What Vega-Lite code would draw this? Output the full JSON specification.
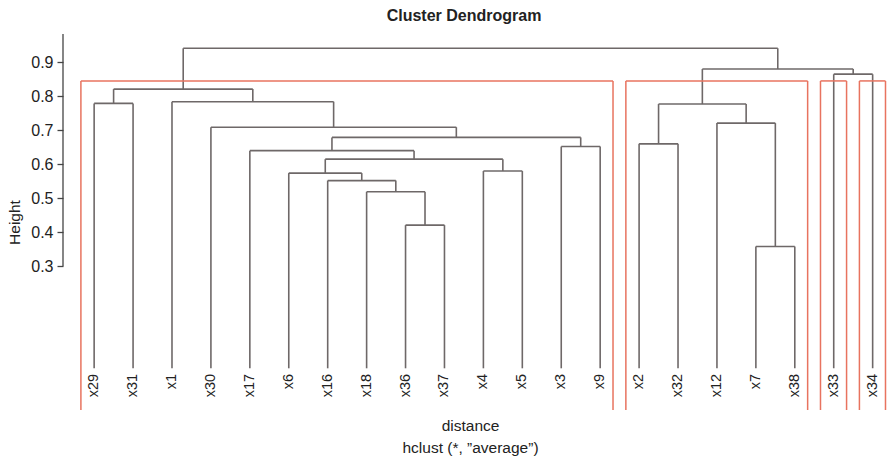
{
  "$schema": "https://vega.github.io/schema/vega-lite/v6.json",
  "width": 826,
  "height": 376,
  "autosize": {"type": "none"},
  "padding": {"left": 63, "top": 34, "right": 0, "bottom": 47},
  "background": "white",
  "config": {"view": {"stroke": null}, "font": "Liberation Sans"},
  "title": {"text": "Cluster Dendrogram", "fontSize": 16, "fontWeight": "bold", "color": "#222222", "anchor": "middle", "dx": -12, "offset": 9, "font": "Liberation Sans"},
  "datasets": {
    "nodes": [
      {"id": "N1", "xl": 9, "hl": 0, "xr": 10, "hr": 0, "h": 0.421},
      {"id": "N2", "xl": 8, "hl": 0, "xr": 9.5, "hr": 0.421, "h": 0.519},
      {"id": "N3", "xl": 7, "hl": 0, "xr": 8.75, "hr": 0.519, "h": 0.552},
      {"id": "N4", "xl": 6, "hl": 0, "xr": 7.875, "hr": 0.552, "h": 0.574},
      {"id": "N5", "xl": 11, "hl": 0, "xr": 12, "hr": 0, "h": 0.58},
      {"id": "N6", "xl": 6.9375, "hl": 0.574, "xr": 11.5, "hr": 0.58, "h": 0.615},
      {"id": "N7", "xl": 5, "hl": 0, "xr": 9.21875, "hr": 0.615, "h": 0.64},
      {"id": "N8", "xl": 13, "hl": 0, "xr": 14, "hr": 0, "h": 0.652},
      {"id": "N9", "xl": 7.109375, "hl": 0.64, "xr": 13.5, "hr": 0.652, "h": 0.679},
      {"id": "N10", "xl": 4, "hl": 0, "xr": 10.3046875, "hr": 0.679, "h": 0.709},
      {"id": "N11", "xl": 3, "hl": 0, "xr": 7.15234375, "hr": 0.709, "h": 0.784},
      {"id": "N12", "xl": 1, "hl": 0, "xr": 2, "hr": 0, "h": 0.779},
      {"id": "N13", "xl": 1.5, "hl": 0.779, "xr": 5.076171875, "hr": 0.784, "h": 0.821},
      {"id": "N14", "xl": 18, "hl": 0, "xr": 19, "hr": 0, "h": 0.358},
      {"id": "N15", "xl": 17, "hl": 0, "xr": 18.5, "hr": 0.358, "h": 0.721},
      {"id": "N16", "xl": 15, "hl": 0, "xr": 16, "hr": 0, "h": 0.66},
      {"id": "N17", "xl": 15.5, "hl": 0.66, "xr": 17.75, "hr": 0.721, "h": 0.777},
      {"id": "N18", "xl": 20, "hl": 0, "xr": 21, "hr": 0, "h": 0.865},
      {"id": "N19", "xl": 16.625, "hl": 0.777, "xr": 20.5, "hr": 0.865, "h": 0.88},
      {"id": "N20", "xl": 3.2880859375, "hl": 0.821, "xr": 18.5625, "hr": 0.88, "h": 0.941}
    ],
    "leaves": [
      {"label": "x29", "pos": 1}, {"label": "x31", "pos": 2}, {"label": "x1", "pos": 3},
      {"label": "x30", "pos": 4}, {"label": "x17", "pos": 5}, {"label": "x6", "pos": 6},
      {"label": "x16", "pos": 7}, {"label": "x18", "pos": 8}, {"label": "x36", "pos": 9},
      {"label": "x37", "pos": 10}, {"label": "x4", "pos": 11}, {"label": "x5", "pos": 12},
      {"label": "x3", "pos": 13}, {"label": "x9", "pos": 14}, {"label": "x2", "pos": 15},
      {"label": "x32", "pos": 16}, {"label": "x12", "pos": 17}, {"label": "x7", "pos": 18},
      {"label": "x38", "pos": 19}, {"label": "x33", "pos": 20}, {"label": "x34", "pos": 21}
    ],
    "boxes": [
      {"cluster": 1, "left": 0.66, "right": 14.33, "top": 0.845},
      {"cluster": 2, "left": 14.66, "right": 19.33, "top": 0.845},
      {"cluster": 3, "left": 19.66, "right": 20.33, "top": 0.845},
      {"cluster": 4, "left": 20.66, "right": 21.33, "top": 0.845}
    ]
  },
  "layer": [
    {
      "data": {"name": "nodes"},
      "mark": {"type": "rule", "color": "#6e6868", "strokeWidth": 1.6},
      "encoding": {
        "x": {"field": "xl", "type": "quantitative", "scale": {"domain": [0.2, 21.42], "nice": false, "zero": false},
          "axis": {"labels": false, "ticks": false, "domain": false, "grid": false,
            "title": ["distance", "hclust (*, \u201daverage\u201d)"], "titleFontSize": 15.5, "titleFontWeight": "normal",
            "titleColor": "#222222", "titleLineHeight": 22, "titleBaseline": "top", "titleX": 407, "titleY": 8, "titleFont": "Liberation Sans"}},
        "x2": {"field": "xr"},
        "y": {"field": "h", "type": "quantitative", "scale": {"domain": [-0.1226, 0.983], "nice": false, "zero": false},
          "axis": {"values": [0.3, 0.4, 0.5, 0.6, 0.7, 0.8, 0.9], "format": ".1f", "domain": false, "grid": false,
            "tickSize": 6, "tickColor": "#444444", "tickWidth": 1.3, "labelFontSize": 16, "labelPadding": 4, "labelColor": "#222222", "labelFont": "Liberation Sans",
            "title": "Height", "titleFontSize": 15.5, "titleFontWeight": "normal", "titleColor": "#222222", "titlePadding": 8, "titleFont": "Liberation Sans"}}
      }
    },
    {
      "data": {"name": "nodes"},
      "mark": {"type": "rule", "color": "#6e6868", "strokeWidth": 1.6},
      "encoding": {
        "x": {"field": "xl", "type": "quantitative"},
        "y": {"field": "hl", "type": "quantitative"},
        "y2": {"field": "h"}
      }
    },
    {
      "data": {"name": "nodes"},
      "mark": {"type": "rule", "color": "#6e6868", "strokeWidth": 1.6},
      "encoding": {
        "x": {"field": "xr", "type": "quantitative"},
        "y": {"field": "hr", "type": "quantitative"},
        "y2": {"field": "h"}
      }
    },
    {
      "data": {"name": "boxes"},
      "mark": {"type": "rule", "color": "#e8735f", "strokeWidth": 1.5},
      "encoding": {
        "x": {"field": "left", "type": "quantitative"},
        "y": {"field": "top", "type": "quantitative"},
        "y2": {"datum": -0.1226}
      }
    },
    {
      "data": {"name": "boxes"},
      "mark": {"type": "rule", "color": "#e8735f", "strokeWidth": 1.5},
      "encoding": {
        "x": {"field": "right", "type": "quantitative"},
        "y": {"field": "top", "type": "quantitative"},
        "y2": {"datum": -0.1226}
      }
    },
    {
      "data": {"name": "boxes"},
      "mark": {"type": "rule", "color": "#e8735f", "strokeWidth": 1.5},
      "encoding": {
        "x": {"field": "left", "type": "quantitative"},
        "x2": {"field": "right"},
        "y": {"field": "top", "type": "quantitative"}
      }
    },
    {
      "data": {"name": "leaves"},
      "mark": {"type": "text", "angle": 270, "align": "right", "baseline": "middle", "dx": -5.5, "fontSize": 14.5, "color": "#222222", "font": "Liberation Sans"},
      "encoding": {
        "x": {"field": "pos", "type": "quantitative"},
        "y": {"datum": 0, "type": "quantitative"},
        "text": {"field": "label"}
      }
    },
    {
      "data": {"values": [{"axis": "y"}]},
      "mark": {"type": "rule", "color": "#444444", "strokeWidth": 1.3},
      "encoding": {
        "x": {"datum": 0.2, "type": "quantitative"},
        "y": {"datum": 0.983, "type": "quantitative"},
        "y2": {"datum": 0.3}
      }
    }
  ]
}
